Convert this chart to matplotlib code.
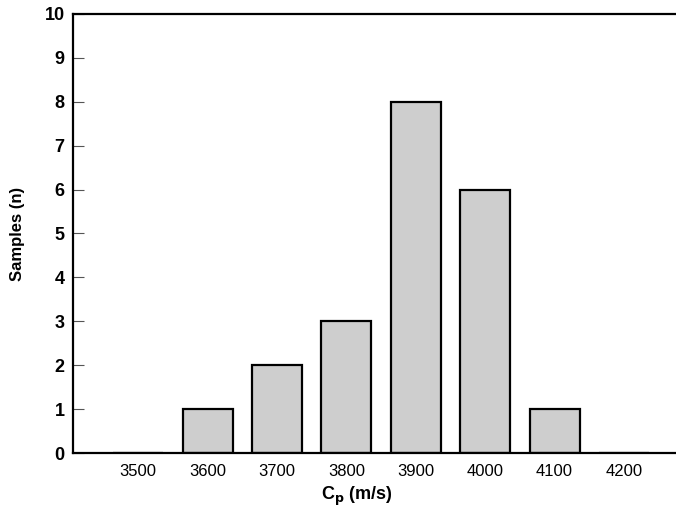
import matplotlib
matplotlib.use('Agg')
import matplotlib.pyplot as plt

# velocity classes and number of samples in each
velocity = [3500, 3600, 3700, 3800, 3900, 4000, 4100, 4200]
samples = [0, 1, 2, 3, 8, 6, 1, 0]

plt.rcParams['font.family'] = ['Liberation Sans', 'DejaVu Sans']

fig = plt.figure(figsize=(6.76, 5.12), dpi=100)
ax = fig.add_axes([0.108, 0.115, 0.892, 0.858])

ax.bar(velocity, samples, width=72, color='#cecece', edgecolor='black', linewidth=1.6)

ax.set_xlim(3406, 4275)
ax.set_ylim(0, 10)
ax.set_xticks(velocity)
ax.set_xticklabels([str(v) for v in velocity], fontsize=12)
ax.set_yticks(range(0, 11))
ax.set_yticklabels([str(i) for i in range(0, 11)], fontsize=13, fontweight='bold')
ax.tick_params(axis='x', length=0, pad=8)
ax.tick_params(axis='y', direction='in', length=8, width=0.8, color='#555555', pad=6)

ax.spines['right'].set_visible(False)
for s in ['left', 'bottom', 'top']:
    ax.spines[s].set_linewidth(1.6)

ax.set_xlabel(r'C$_\mathbf{p}$ (m/s)', fontsize=13, fontweight='bold')
ax.xaxis.set_label_coords(0.471, -0.072)
ax.set_ylabel('Samples (n)', fontsize=12, fontweight='bold', labelpad=14)

fig.savefig('out.png', dpi=100)
